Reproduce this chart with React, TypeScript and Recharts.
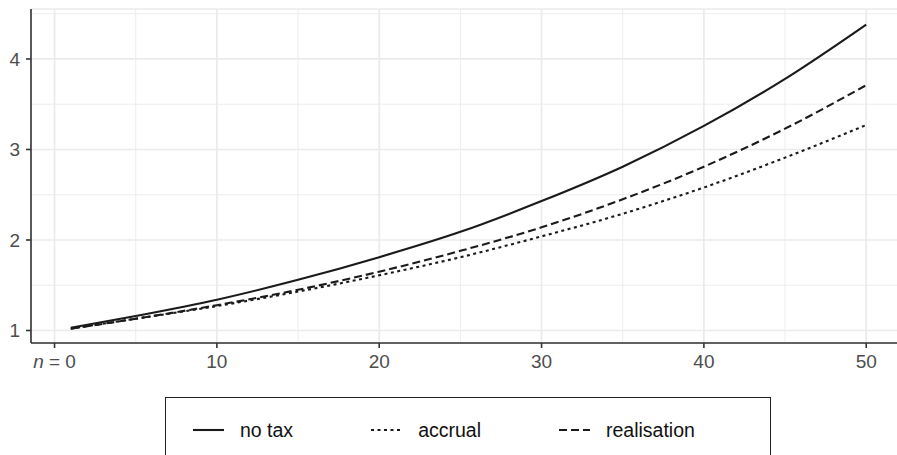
import { LineChart, Line, XAxis, YAxis, CartesianGrid, Legend } from "recharts"

const years = [1, 5, 10, 15, 20, 25, 30, 35, 40, 45, 50]
const noTax = [1.03, 1.16, 1.34, 1.56, 1.81, 2.09, 2.43, 2.81, 3.26, 3.78, 4.38]
const accrual = [1.02, 1.13, 1.27, 1.43, 1.61, 1.81, 2.04, 2.29, 2.58, 2.91, 3.27]
const realisation = [1.02, 1.13, 1.28, 1.45, 1.65, 1.88, 2.14, 2.45, 2.81, 3.23, 3.71]

const xTicks = [0, 10, 20, 30, 40, 50]
const yTicks = [1, 2, 3, 4]
const xMinor = [5, 15, 25, 35, 45]
const yMinor = [1.5, 2.5, 3.5, 4.5]

const seriesNames = ["no tax", "accrual", "realisation"]
const seriesDash = ["", "3 3.5", "8 4"]

const data = years.map((n, i) => ({
  n,
  noTax: noTax[i],
  accrual: accrual[i],
  realisation: realisation[i],
}))

const FONT = "'Liberation Sans', Arial, sans-serif"
const INK = "#1a1a1a"
const LW = 2.1

const XTick = ({ x, y, payload }: any) => (
  <text x={x} y={y} dy="0.71em" textAnchor="middle" fill="#4d4d4d" fontSize={19} fontFamily={FONT}>
    {payload.value === 0 ? (
      <>
        <tspan fontStyle="italic">n</tspan>
        <tspan> = 0</tspan>
      </>
    ) : (
      payload.value
    )}
  </text>
)

const LegendBox = () => (
  <div
    style={{
      boxSizing: "border-box",
      width: 606,
      height: 80,
      border: "1px solid #222",
      display: "flex",
      alignItems: "flex-start",
      paddingLeft: 27,
      paddingTop: 24,
      fontFamily: FONT,
      fontSize: 19.5,
      color: "#111",
      whiteSpace: "nowrap",
    }}
  >
    {seriesNames.map((name, i) => (
      <div key={name} style={{ display: "flex", alignItems: "center", marginRight: 78, flexShrink: 0 }}>
        <svg width={31} height={16} style={{ flexShrink: 0 }}>
          <line x1={0} x2={31} y1={8} y2={8} stroke={INK} strokeWidth={LW} strokeDasharray={seriesDash[i]} />
        </svg>
        <span style={{ marginLeft: 16, lineHeight: "16px" }}>{name}</span>
      </div>
    ))}
  </div>
)

export default function App() {
  return (
    <div style={{ position: "fixed", left: 0, top: 0, width: 897, height: 455, overflow: "hidden", background: "#fff" }}>
      <LineChart width={906} height={455} data={data} margin={{ top: 9, right: 0, bottom: 0, left: 0 }}>
        <CartesianGrid
          stroke="#ebebeb"
          strokeWidth={0.9}
          verticalValues={xMinor}
          horizontalValues={yMinor}
          xAxisId="bottom"
        />
        <CartesianGrid stroke="#ebebeb" strokeWidth={1.7} xAxisId="bottom" />
        <XAxis
          xAxisId="bottom"
          dataKey="n"
          type="number"
          domain={[-1.45, 52.45]}
          ticks={xTicks}
          allowDataOverflow
          height={112}
          tick={<XTick />}
          tickSize={5}
          tickMargin={7}
          axisLine={{ stroke: "#333", strokeWidth: 1.6 }}
          tickLine={{ stroke: "#333", strokeWidth: 1.6 }}
        />
        <XAxis
          xAxisId="top"
          orientation="top"
          dataKey="n"
          type="number"
          domain={[-1.45, 52.45]}
          allowDataOverflow
          height={0}
          tick={false}
          tickLine={false}
          axisLine={{ stroke: "#333", strokeWidth: 1.6 }}
        />
        <YAxis
          type="number"
          domain={[0.862, 4.552]}
          ticks={yTicks}
          allowDataOverflow
          width={31}
          tickSize={5}
          tickMargin={6}
          tick={{ fill: "#4d4d4d", fontSize: 19, fontFamily: FONT }}
          axisLine={{ stroke: "#333", strokeWidth: 1.6 }}
          tickLine={{ stroke: "#333", strokeWidth: 1.6 }}
        />
        <Line xAxisId="bottom" type="monotone" dataKey="noTax" name="no tax" stroke={INK} strokeWidth={LW} dot={false} isAnimationActive={false} />
        <Line xAxisId="bottom" type="monotone" dataKey="accrual" name="accrual" stroke={INK} strokeWidth={LW} strokeDasharray={seriesDash[1]} dot={false} isAnimationActive={false} />
        <Line xAxisId="bottom" type="monotone" dataKey="realisation" name="realisation" stroke={INK} strokeWidth={LW} strokeDasharray={seriesDash[2]} dot={false} isAnimationActive={false} />
        <Legend
          layout="vertical"
          align="center"
          verticalAlign="middle"
          content={<LegendBox />}
          wrapperStyle={{ left: 165, top: 397, width: 606, height: 80 }}
        />
      </LineChart>
    </div>
  )
}
